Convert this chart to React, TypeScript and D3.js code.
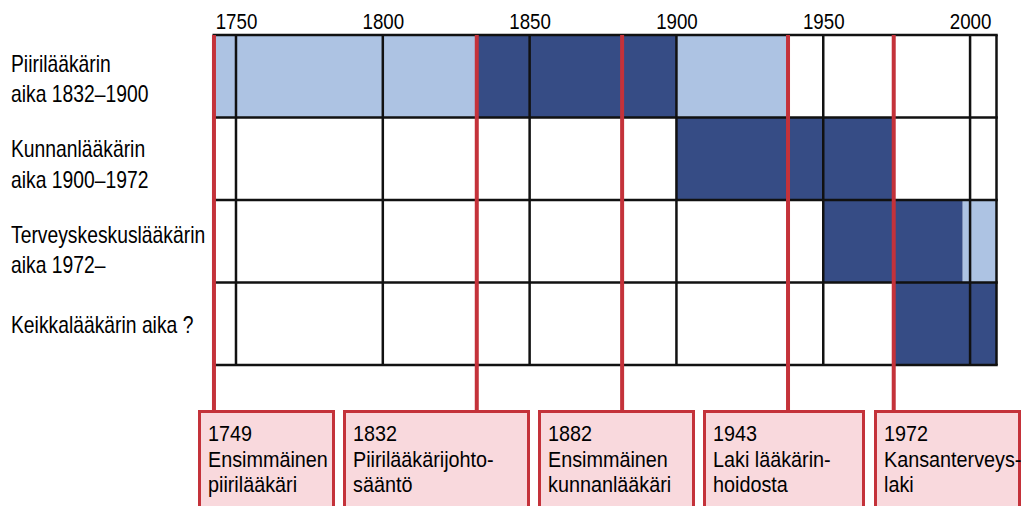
import React, { useRef, useEffect } from 'react';
import * as d3 from 'd3';

const eras = [
  ['Piirilääkärin', 'aika 1832–1900'],
  ['Kunnanlääkärin', 'aika 1900–1972'],
  ['Terveyskeskuslääkärin', 'aika 1972–'],
  ['Keikkalääkärin aika ?'],
];

// segments per row: [row, start, end, kind]
const segRow = [0, 0, 0, 1, 2, 2, 3];
const segStart = [1742, 1832, 1900, 1900, 1950, 1997.5, 1974];
const segEnd = [1832, 1900, 1938, 1974, 1997.5, 2009, 2009];
const segKind = ['light', 'dark', 'light', 'dark', 'dark', 'light', 'dark'];

const tickYears = [1750, 1800, 1850, 1900, 1950, 2000];
const domainYears: [number, number] = [1742, 2009];

// where the red marker lines sit on the time axis (as drawn)
const markerPos = [1742.5, 1832, 1881.5, 1938, 1974];
const markerYear = ['1749', '1832', '1882', '1943', '1972'];
const markerText = [
  ['Ensimmäinen', 'piirilääkäri'],
  ['Piirilääkärijohto-', 'sääntö'],
  ['Ensimmäinen', 'kunnanlääkäri'],
  ['Laki lääkärin-', 'hoidosta'],
  ['Kansanterveys-', 'laki'],
];

// annotation boxes, pixel layout [left, right]
const boxLayout = [
  [198, 335],
  [343, 530],
  [538, 695],
  [703, 865],
  [874, 1021],
];

// no condensed face installed, so squeeze Liberation Sans horizontally
const FONT = '"Liberation Sans", Arial, sans-serif';
const LIGHT = '#adc3e3';
const DARK = '#364c85';
const RED = '#c4323a';
const PINK = '#f9d9dd';

const App: React.FC = () => {
  const ref = useRef<SVGSVGElement | null>(null);

  useEffect(() => {
    document.body.style.margin = '0';
    if (!ref.current) return;
    const svg = d3.select(ref.current);
    svg.selectAll('*').remove();

    const x = d3.scaleLinear().domain(domainYears).range([212.5, 996.5]);
    const y = d3
      .scaleBand<number>()
      .domain(d3.range(eras.length))
      .range([35, 365]);
    const top = 35;
    const bottom = 365;

    const label = (
      g: d3.Selection<SVGGElement, unknown, null, undefined>,
      tx: number,
      ty: number,
      txt: string,
      size: number,
      squeeze: number
    ) =>
      g
        .append('text')
        .attr('transform', `translate(${tx},${ty}) scale(${squeeze},1)`)
        .attr('font-family', FONT)
        .attr('font-size', size)
        .attr('fill', '#000')
        .text(txt);

    // bars
    svg
      .append('g')
      .selectAll('rect')
      .data(segRow)
      .join('rect')
      .attr('x', (_, i) => x(segStart[i]))
      .attr('width', (_, i) => x(segEnd[i]) - x(segStart[i]))
      .attr('y', (r) => y(r)!)
      .attr('height', y.bandwidth())
      .attr('fill', (_, i) => (segKind[i] === 'dark' ? DARK : LIGHT));

    // grid
    const grid = svg.append('g').attr('stroke', '#111').attr('stroke-width', 2.5);
    grid
      .selectAll('line.v')
      .data([...tickYears, domainYears[1]])
      .join('line')
      .attr('class', 'v')
      .attr('x1', (d) => x(d))
      .attr('x2', (d) => x(d))
      .attr('y1', top)
      .attr('y2', bottom);
    grid
      .selectAll('line.h')
      .data(d3.range(eras.length + 1))
      .join('line')
      .attr('class', 'h')
      .attr('x1', x(domainYears[0]))
      .attr('x2', x(domainYears[1]) + 1.25)
      .attr('y1', (r) => (r < eras.length ? y(r)! : bottom))
      .attr('y2', (r) => (r < eras.length ? y(r)! : bottom));

    // top axis labels
    svg
      .append('g')
      .attr('transform', `translate(0,${top})`)
      .call(
        d3
          .axisTop(x)
          .tickValues(tickYears)
          .tickSize(0)
          .tickPadding(6)
          .tickFormat(d3.format('d'))
      )
      .call((g) => g.select('.domain').remove())
      .selectAll('text')
      .attr('transform', 'scale(0.85,1)')
      .attr('font-family', FONT)
      .attr('font-size', 22)
      .attr('fill', '#000');

    // row labels
    const labels = svg.append('g');
    eras.forEach((lines, i) => {
      const c = y(i)! + y.bandwidth() / 2;
      const first = lines.length > 1 ? c - 4.5 + i * 3 : c + 9.5;
      lines.forEach((t, j) => label(labels, 11, first + j * 30.5, t, 23, 0.84));
    });

    // marker lines
    const boxTop = 411.5;
    svg
      .append('g')
      .selectAll('line')
      .data(markerPos)
      .join('line')
      .attr('x1', (d) => x(d))
      .attr('x2', (d) => x(d))
      .attr('y1', top)
      .attr('y2', boxTop)
      .attr('stroke', RED)
      .attr('stroke-width', 4);

    // annotation boxes
    const boxes = svg.append('g');
    markerYear.forEach((yr, i) => {
      const [l, r] = boxLayout[i];
      boxes
        .append('rect')
        .attr('x', l + 1.5)
        .attr('width', r - l - 3)
        .attr('y', boxTop)
        .attr('height', 120)
        .attr('fill', PINK)
        .attr('stroke', RED)
        .attr('stroke-width', 3);
      [yr, ...markerText[i]].forEach((t, j) =>
        label(boxes, l + 10, 441 + j * 25.5, t, 22, 0.9)
      );
    });
  }, []);

  return <svg ref={ref} width={1023} height={506} style={{ display: 'block' }} />;
};

export default App;
